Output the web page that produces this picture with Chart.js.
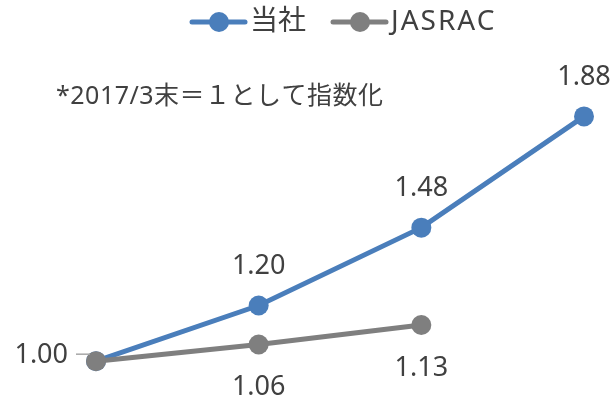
<!DOCTYPE html>
<html>
<head>
<meta charset="utf-8">
<script src="https://cdn.jsdelivr.net/npm/chart.js@4/dist/chart.umd.min.js"></script>
<style>
  html, body { margin: 0; padding: 0; background: #fff; }
  #wrap { width: 616px; height: 399px; position: relative; }
</style>
</head>
<body>
<div id="wrap"><canvas id="c"></canvas></div>
<script>
// data
const periods = ['2017/3', '2018/3', '2019/3', '2020/3'];
const companyValues = [1.00, 1.20, 1.48, 1.88];
const jasracValues = [1.00, 1.06, 1.13];
const seriesNames = ['当社', 'JASRAC'];
const noteText = '*2017/3末＝１として指数化';

const BLUE = '#4a7ebb';
const GREY = '#7f7f7f';
const TEXT = '#404040';
const FONT = '"Noto Sans", "Noto Sans CJK JP", sans-serif';

// legend, note and value labels drawn on top of the chart
const overlay = {
  id: 'overlay',
  afterDatasetsDraw(chart) {
    const ctx = chart.ctx;
    ctx.save();

    // legend entries: line + marker + label
    const items = [
      { x: 192, color: BLUE, text: seriesNames[0], spacing: '0px' },
      { x: 333, color: GREY, text: seriesNames[1], spacing: '2px' }
    ];
    ctx.font = '28px ' + FONT;
    ctx.textBaseline = 'middle';
    items.forEach(it => {
      ctx.strokeStyle = it.color;
      ctx.lineWidth = 5;
      ctx.lineCap = 'round';
      ctx.beginPath();
      ctx.moveTo(it.x, 22);
      ctx.lineTo(it.x + 53, 22);
      ctx.stroke();
      ctx.fillStyle = it.color;
      ctx.beginPath();
      ctx.arc(it.x + 27, 22, 10, 0, Math.PI * 2);
      ctx.fill();
      ctx.fillStyle = TEXT;
      ctx.textAlign = 'left';
      ctx.letterSpacing = it.spacing;
      ctx.fillText(it.text, it.x + 58, 22);
    });

    // note
    ctx.font = '25px ' + FONT;
    ctx.letterSpacing = '0.5px';
    ctx.fillStyle = TEXT;
    ctx.textAlign = 'left';
    ctx.fillText(noteText, 56, 97);
    ctx.letterSpacing = '0px';

    // value labels
    ctx.font = '27px ' + FONT;
    ctx.textAlign = 'center';
    const blue = chart.getDatasetMeta(0).data;
    blue.forEach((pt, i) => {
      const v = companyValues[i].toFixed(2);
      if (i === 0) {
        ctx.textAlign = 'right';
        ctx.fillText(v, pt.x - 28, pt.y - 6);
        ctx.textAlign = 'center';
        return;
      }
      ctx.fillText(v, pt.x, pt.y - 39);
    });
    const grey = chart.getDatasetMeta(1).data;
    grey.forEach((pt, i) => {
      if (i === 0) return;
      ctx.fillText(jasracValues[i].toFixed(2), pt.x, pt.y + 43);
    });

    // small leader line next to the first label
    ctx.strokeStyle = '#a6a6a6';
    ctx.lineWidth = 1.5;
    ctx.lineCap = 'butt';
    ctx.beginPath();
    ctx.moveTo(blue[0].x - 20, blue[0].y - 7);
    ctx.lineTo(blue[0].x - 6, blue[0].y - 7);
    ctx.stroke();

    ctx.restore();
  }
};

new Chart(document.getElementById('c'), {
  type: 'line',
  data: {
    labels: periods,
    datasets: [
      {
        label: seriesNames[0],
        data: companyValues,
        borderColor: BLUE,
        backgroundColor: BLUE,
        borderWidth: 5,
        pointRadius: 10,
        pointHoverRadius: 10,
        pointBorderWidth: 0,
        tension: 0,
        order: 1
      },
      {
        label: seriesNames[1],
        data: jasracValues,
        borderColor: GREY,
        backgroundColor: GREY,
        borderWidth: 5,
        pointRadius: 10,
        pointHoverRadius: 10,
        pointBorderWidth: 0,
        tension: 0,
        order: 0
      }
    ]
  },
  options: {
    responsive: true,
    maintainAspectRatio: false,
    animation: false,
    layout: { padding: { left: 96, right: 32, top: 83, bottom: 10 } },
    plugins: {
      legend: { display: false },
      tooltip: { enabled: false }
    },
    scales: {
      x: { display: false, offset: false },
      y: { display: false, min: 0.9, max: 2.0 }
    }
  },
  plugins: [overlay]
});
</script>
</body>
</html>
